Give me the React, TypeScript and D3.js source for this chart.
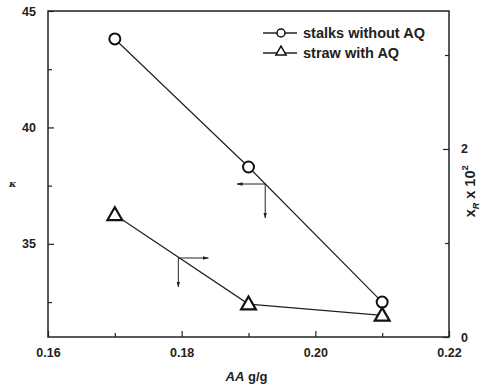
import { useRef, useEffect } from "react";
import * as d3 from "d3";

// AA dose (g/g)
const aaDose = [0.17, 0.19, 0.21];
// kappa number, stalks without AQ (left axis)
const stalksKappa = [43.8, 38.3, 32.5];
// x_R x 10^2, straw with AQ (right axis)
const strawXr = [1.3, 0.35, 0.23];

const xTicks = [0.16, 0.18, 0.2, 0.22];
const xMinor = [0.17, 0.19, 0.21];
const leftTicks = [35, 40, 45];
const leftMinor = [32.5, 37.5, 42.5];
const rightTicks = [0, 2];
const rightMinor = [1, 3];

export default function App() {
	const svgRef = useRef(null);

	useEffect(() => {
		const W = 488, H = 389;
		const margin = { top: 11, right: 39, bottom: 52, left: 48 };
		const width = W - margin.left - margin.right;
		const height = H - margin.top - margin.bottom;
		const font = "Liberation Sans, Arial, sans-serif";

		const root = d3.select(svgRef.current).attr("width", W).attr("height", H);
		root.selectAll("*").remove();
		const svg = root.append("g").attr("transform", `translate(${margin.left},${margin.top})`);

		const x = d3.scaleLinear().domain([0.16, 0.22]).range([0, width]);
		const yL = d3.scaleLinear().domain([31, 45]).range([height, 0]);
		const yR = d3.scaleLinear().domain([0, 3.468]).range([height, 0]);

		// frame
		svg.append("rect").attr("width", width).attr("height", height)
			.attr("fill", "none").attr("stroke", "#222").attr("stroke-width", 1.5);

		const tickStyle = (g) => {
			g.select(".domain").remove();
			g.selectAll(".tick line").attr("stroke", "#222").attr("stroke-width", 1.2);
			g.selectAll("text").attr("font-family", font).attr("font-weight", "bold")
				.attr("font-size", 12.5).attr("fill", "#222");
		};

		// bottom axis
		svg.append("g").attr("transform", `translate(0,${height})`)
			.call(d3.axisBottom(x).tickValues(xTicks).tickSizeInner(-6).tickSizeOuter(0)
				.tickPadding(11).tickFormat(d3.format(".2f")))
			.call(tickStyle);
		svg.append("g").attr("transform", `translate(0,${height})`)
			.call(d3.axisBottom(x).tickValues(xMinor).tickSizeInner(-4).tickSizeOuter(0).tickFormat(() => ""))
			.call(tickStyle);

		// left axis
		svg.append("g")
			.call(d3.axisLeft(yL).tickValues(leftTicks).tickSizeInner(-6).tickSizeOuter(0).tickPadding(12))
			.call(tickStyle);
		svg.append("g")
			.call(d3.axisLeft(yL).tickValues(leftMinor).tickSizeInner(-4).tickSizeOuter(0).tickFormat(() => ""))
			.call(tickStyle);

		// right axis
		svg.append("g").attr("transform", `translate(${width},0)`)
			.call(d3.axisRight(yR).tickValues(rightTicks).tickSizeInner(-6).tickSizeOuter(0)
				.tickPadding(12).tickFormat(d3.format("d")))
			.call(tickStyle);
		svg.append("g").attr("transform", `translate(${width},0)`)
			.call(d3.axisRight(yR).tickValues(rightMinor).tickSizeInner(-4).tickSizeOuter(0).tickFormat(() => ""))
			.call(tickStyle);

		// x label
		const xl = svg.append("text").attr("x", width / 2 - 2).attr("y", height + 44)
			.attr("text-anchor", "middle").attr("font-family", font).attr("font-weight", "bold")
			.attr("font-size", 13).attr("fill", "#222");
		xl.append("tspan").attr("font-style", "italic").text("AA");
		xl.append("tspan").text(" g/g");

		// left label
		svg.append("text").attr("x", -39).attr("y", yL(37.6) + 4)
			.attr("font-family", "DejaVu Serif, serif").attr("font-style", "italic").attr("font-weight", "bold")
			.attr("font-size", 10).attr("fill", "#222").text("κ");

		// right label
		const rl = svg.append("text")
			.attr("transform", `translate(${width + 26},${yR(1.55)}) rotate(-90)`)
			.attr("text-anchor", "middle").attr("font-family", font).attr("font-weight", "bold")
			.attr("font-size", 14.5).attr("fill", "#222");
		rl.append("tspan").text("x");
		rl.append("tspan").attr("font-size", 9).attr("font-style", "italic").attr("dy", 4).text("R");
		rl.append("tspan").attr("dy", -4).text(" x 10");
		rl.append("tspan").attr("font-size", 9.5).attr("dy", -7).text("2");

		const stalks = aaDose.map((d, i) => [d, stalksKappa[i]]);
		const straw = aaDose.map((d, i) => [d, strawXr[i]]);

		const lineL = d3.line().x((d) => x(d[0])).y((d) => yL(d[1]));
		const lineR = d3.line().x((d) => x(d[0])).y((d) => yR(d[1]));

		svg.append("path").datum(stalks).attr("d", lineL)
			.attr("fill", "none").attr("stroke", "#222").attr("stroke-width", 1.2);
		svg.append("path").datum(straw).attr("d", lineR)
			.attr("fill", "none").attr("stroke", "#222").attr("stroke-width", 1.2);

		const tri = d3.symbol().type(d3.symbolTriangle).size(95);

		svg.selectAll(".circ").data(stalks).enter().append("circle")
			.attr("cx", (d) => x(d[0])).attr("cy", (d) => yL(d[1])).attr("r", 5.5)
			.attr("fill", "white").attr("stroke", "#111").attr("stroke-width", 2);
		svg.selectAll(".tri").data(straw).enter().append("path")
			.attr("d", tri).attr("transform", (d) => `translate(${x(d[0])},${yR(d[1]) + 1})`)
			.attr("fill", "white").attr("stroke", "#111").attr("stroke-width", 2.2);

		// axis pointer arrows
		const defs = root.append("defs");
		defs.append("marker").attr("id", "ah").attr("viewBox", "0 0 10 10")
			.attr("refX", 9).attr("refY", 5).attr("markerWidth", 6).attr("markerHeight", 6)
			.attr("orient", "auto").attr("markerUnits", "userSpaceOnUse")
			.append("path").attr("d", "M0,2 L10,5 L0,8 Z").attr("fill", "#222");

		const arrows = [
			{ x: 0.1925, y: yL.invert(184 - margin.top), dx: -0.0042, dy: 34 },
			{ x: 0.1795, y: yL.invert(258 - margin.top), dx: 0.0045, dy: 29 },
		];
		arrows.forEach((a) => {
			const px = x(a.x), py = yL(a.y);
			svg.append("line").attr("x1", px).attr("y1", py).attr("x2", x(a.x + a.dx)).attr("y2", py)
				.attr("stroke", "#222").attr("stroke-width", 1).attr("marker-end", "url(#ah)");
			svg.append("line").attr("x1", px).attr("y1", py).attr("x2", px).attr("y2", py + a.dy)
				.attr("stroke", "#222").attr("stroke-width", 1).attr("marker-end", "url(#ah)");
		});

		// legend
		const leg = svg.append("g").attr("transform", `translate(${263 - margin.left},${33 - margin.top})`);
		const items = [
			{ label: "stalks without AQ", shape: "c" },
			{ label: "straw with AQ", shape: "t" },
		];
		items.forEach((it, i) => {
			const g = leg.append("g").attr("transform", `translate(0,${i * 20})`);
			g.append("line").attr("x1", 0).attr("x2", 34).attr("stroke", "#222").attr("stroke-width", 1.3);
			if (it.shape === "c") {
				g.append("circle").attr("cx", 18).attr("r", 4).attr("fill", "white")
					.attr("stroke", "#111").attr("stroke-width", 1.5);
			} else {
				g.append("path").attr("d", d3.symbol().type(d3.symbolTriangle).size(45))
					.attr("transform", "translate(18,-1)")
					.attr("fill", "white").attr("stroke", "#111").attr("stroke-width", 1.5);
			}
			g.append("text").attr("x", 40).attr("y", 5).attr("font-family", font)
				.attr("font-weight", "bold").attr("font-size", 14.5).attr("fill", "#222").text(it.label);
		});

		return () => {
			d3.select(svgRef.current).selectAll("*").remove();
		};
	}, []);

	return (
		<div>
			<svg ref={svgRef} style={{ position: "absolute", left: 0, top: 0 }}></svg>
		</div>
	);
}
